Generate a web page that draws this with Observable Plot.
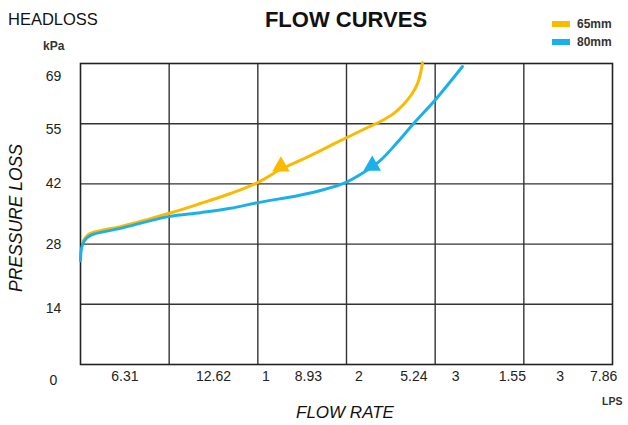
<!DOCTYPE html>
<html>
<head>
<meta charset="utf-8">
<script src="https://cdn.jsdelivr.net/npm/d3@7"></script>
<script src="https://cdn.jsdelivr.net/npm/@observablehq/plot@0.6"></script>
<style>
  html, body { margin: 0; padding: 0; background: #fff; }
  body { width: 628px; height: 425px; position: relative; overflow: hidden; font-family: "Liberation Sans", Arial, Helvetica, sans-serif; color: #111; }
  .lbl { position: absolute; white-space: nowrap; line-height: 1; }
  #chart { position: absolute; left: 0; top: 0; }
  .sw { position: absolute; width: 18px; height: 6px; }
</style>
</head>
<body>
<div id="chart"></div>
<div class="lbl" style="left:8px;top:11px;font-size:16.5px;">HEADLOSS</div>
<div class="lbl" style="left:43px;top:40px;font-size:12px;font-weight:bold;color:#333;">kPa</div>
<div class="lbl" style="left:0;width:692px;text-align:center;top:9px;font-size:22px;font-weight:bold;">FLOW CURVES</div>
<div class="sw" style="left:552px;top:21px;background:#FBBA00;"></div>
<div class="lbl" style="left:577px;top:18px;font-size:12px;font-weight:bold;color:#333;">65mm</div>
<div class="sw" style="left:552px;top:39px;background:#1BB0EA;"></div>
<div class="lbl" style="left:577px;top:36px;font-size:12px;font-weight:bold;color:#333;">80mm</div>
<div class="lbl" style="left:0;width:690px;text-align:center;top:404px;font-size:17px;font-style:italic;">FLOW RATE</div>
<div class="lbl" style="left:602px;top:396px;font-size:10.5px;font-weight:bold;color:#333;">LPS</div>
<div class="lbl" style="left:17px;top:218px;font-size:17.5px;font-style:italic;transform:translate(-50%,-50%) rotate(-90deg);">PRESSURE LOSS</div>
<script>
// X tick labels (as printed) and their positions along the flow axis
const xTickLabels = ["6.31", "12.62", "1", "8.93", "2", "5.24", "3", "1.55", "3", "7.86"];
const xTickPos    = [0.5, 1.5, 2.09, 2.57, 3.14, 3.76, 4.23, 4.87, 5.41, 5.90];
const xGrid = [1, 2, 3, 4, 5];

// Y grid values (kPa) and printed labels
const yGrid = [13.8, 27.6, 41.4, 55.2];
const yTickLabels = ["69", "55", "42", "28", "14", "0"];
const yTickPos    = [66.0, 53.9, 41.5, 27.5, 12.8, -3.7];

// 65mm curve
const x65 = [0.034, 0.09, 0.226, 0.451, 0.992, 1.353, 1.692, 1.996, 2.256, 2.594, 2.932, 3.214, 3.383, 3.530, 3.643, 3.733, 3.801, 3.834, 3.857];
const y65 = [28.4, 29.8, 30.7, 31.6, 34.6, 36.9, 39.2, 41.7, 44.7, 47.9, 51.3, 54.1, 55.7, 57.5, 59.6, 61.9, 64.4, 66.7, 69.2];

// 80mm curve
const x80 = [0, 0.011, 0.045, 0.113, 0.451, 0.992, 1.353, 1.692, 1.996, 2.447, 2.707, 2.989, 3.192, 3.383, 3.564, 3.755, 4.015, 4.308];
const y80 = [23.8, 26.6, 28.4, 29.6, 31.2, 33.9, 34.8, 35.8, 37.1, 38.7, 39.9, 41.7, 44.0, 46.8, 50.7, 55.2, 61.0, 68.3];

// arrow markers
const arrowX = [2.26, 3.29];
const arrowY = [45.4, 45.6];
const arrowSeries = ["65mm", "80mm"];

const colors = {"65mm": "#FBBA00", "80mm": "#1BB0EA"};

const d65 = x65.map((x, i) => ({x, y: y65[i]}));
const d80 = x80.map((x, i) => ({x, y: y80[i]}));
const arrows = arrowX.map((x, i) => ({x, y: arrowY[i], s: arrowSeries[i]}));
const xt = xTickPos.map((x, i) => ({x, t: xTickLabels[i]}));
const yt = yTickPos.map((y, i) => ({y, t: yTickLabels[i]}));

const plot = Plot.plot({
  width: 628,
  height: 425,
  marginLeft: 80,
  marginRight: 16,
  marginTop: 63,
  marginBottom: 61,
  style: {fontFamily: "'Liberation Sans', Arial, Helvetica, sans-serif", background: "transparent"},
  x: {domain: [0, 6], axis: null},
  y: {domain: [0, 69], axis: null},
  marks: [
    Plot.gridX(xGrid, {stroke: "#333", strokeOpacity: 1, strokeWidth: 1.4}),
    Plot.gridY(yGrid, {stroke: "#333", strokeOpacity: 1, strokeWidth: 1.4}),
    Plot.frame({stroke: "#222", strokeWidth: 1.6}),
    Plot.line(d65, {x: "x", y: "y", stroke: colors["65mm"], strokeWidth: 3, curve: "catmull-rom"}),
    Plot.line(d80, {x: "x", y: "y", stroke: colors["80mm"], strokeWidth: 3, curve: "catmull-rom"}),
    Plot.dot(arrows, {x: "x", y: "y", symbol: "triangle", r: 6.5, fill: d => colors[d.s], stroke: "none"}),
    Plot.text(xt, {x: "x", text: "t", frameAnchor: "bottom", dy: 16, fontSize: 14, fill: "#222"}),
    Plot.text(yt, {y: "y", text: "t", frameAnchor: "left", dx: -27, textAnchor: "middle", fontSize: 14, fill: "#222"})
  ]
});
document.getElementById("chart").appendChild(plot);
</script>
</body>
</html>
